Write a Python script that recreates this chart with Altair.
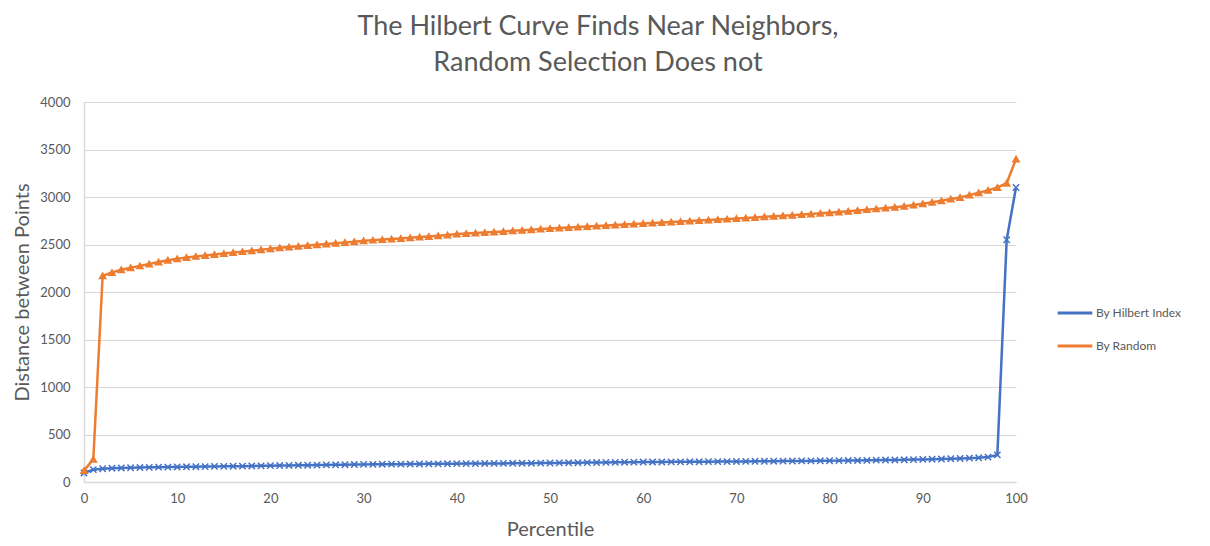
import altair as alt
import pandas as pd

percentile = list(range(101))

by_hilbert = [
    95, 130, 140, 145, 148, 150, 152, 154, 156, 157, 158,
    160, 161, 162, 164, 165, 166, 167, 169, 170, 172,
    173, 174, 176, 177, 178, 180, 181, 182, 184, 185,
    186, 187, 188, 188, 189, 190, 191, 191, 192, 193,
    194, 194, 195, 196, 196, 197, 198, 198, 199, 200,
    201, 202, 203, 204, 205, 206, 207, 208, 209, 210,
    211, 211, 212, 212, 213, 213, 214, 215, 215, 216,
    217, 218, 218, 219, 220, 221, 222, 222, 223, 224,
    225, 226, 227, 228, 230, 231, 232, 234, 236, 238,
    240, 242, 245, 248, 251, 255, 262, 285, 2550, 3100,
]

by_random = [
    120, 240, 2170, 2205, 2235, 2255, 2275, 2295, 2315, 2335, 2350,
    2362, 2375, 2385, 2395, 2405, 2415, 2425, 2435, 2445, 2455,
    2465, 2473, 2481, 2490, 2498, 2506, 2514, 2522, 2530, 2540,
    2546, 2552, 2558, 2564, 2571, 2578, 2585, 2592, 2600, 2610,
    2615, 2620, 2626, 2632, 2638, 2644, 2650, 2656, 2662, 2668,
    2673, 2678, 2684, 2690, 2695, 2700, 2705, 2710, 2716, 2722,
    2727, 2732, 2737, 2742, 2747, 2752, 2757, 2762, 2767, 2773,
    2779, 2785, 2791, 2797, 2803, 2809, 2815, 2821, 2828, 2835,
    2843, 2851, 2859, 2867, 2875, 2884, 2893, 2903, 2915, 2930,
    2945, 2960, 2978, 2995, 3020, 3045, 3070, 3100, 3145, 3400,
]

series_names = ["By Hilbert Index", "By Random"]
series_colors = ["#4472C4", "#ED7D31"]
x_shape = "M-1,-1L1,1M1,-1L-1,1"

rows = []
for p, h, r in zip(percentile, by_hilbert, by_random):
    rows.append({"Percentile": p, "Distance": h, "Series": series_names[0], "Marker": series_names[0]})
    rows.append({"Percentile": p, "Distance": r, "Series": series_names[1], "Marker": series_names[1]})
df = pd.DataFrame(rows)

font = "Lato"
grey = "#595959"

x_enc = alt.X("Percentile:Q",
              scale=alt.Scale(domain=[0, 100], nice=False),
              axis=alt.Axis(values=list(range(0, 101, 10)), title="Percentile",
                            grid=False, ticks=False, labelPadding=10, labelFlush=False,
                            titlePadding=14, domainColor="#d9d9d9", domainWidth=1.5))
y_enc = alt.Y("Distance:Q",
              scale=alt.Scale(domain=[0, 4000], nice=False),
              axis=alt.Axis(values=list(range(0, 4001, 500)), title="Distance between Points",
                            format="d", ticks=False, labelPadding=14, titlePadding=7,
                            labelFlush=False,
                            gridColor="#d9d9d9", gridWidth=1.2,
                            domainColor="#d9d9d9", domainWidth=1.5))

lines = alt.Chart(df).mark_line(strokeWidth=2.5).encode(
    x=x_enc, y=y_enc,
    color=alt.Color("Series:N",
                    scale=alt.Scale(domain=series_names, range=series_colors),
                    legend=alt.Legend(title=None, orient="none", legendX=972, legendY=192,
                                      symbolType="stroke", symbolStrokeWidth=3,
                                      symbolSize=1200, labelFontSize=12,
                                      labelColor=grey, labelFont=font, rowPadding=8,
                                      labelOffset=2)),
    detail="Series:N",
)

points = alt.Chart(df).mark_point(filled=True, size=40, strokeWidth=1.5, opacity=1).encode(
    x="Percentile:Q", y="Distance:Q",
    fill=alt.Fill("Marker:N", scale=alt.Scale(domain=series_names, range=series_colors), legend=None),
    stroke=alt.Stroke("Marker:N", scale=alt.Scale(domain=series_names, range=series_colors), legend=None),
    shape=alt.Shape("Marker:N", scale=alt.Scale(domain=series_names, range=[x_shape, "triangle-up"]), legend=None),
)

chart = alt.layer(lines, points).resolve_legend(
    color="independent", fill="independent", stroke="independent", shape="independent"
).properties(
    width=932, height=380,
    autosize=alt.AutoSizeParams(type="none"),
    padding={"left": 76, "top": 94, "right": 178, "bottom": 58},
    title=alt.Title(["The Hilbert Curve Finds Near Neighbors,", "Random Selection Does not"],
                    fontSize=27, font=font, fontWeight="normal", color=grey,
                    lineHeight=36, offset=19, anchor="middle", dx=48),
).configure_view(stroke=None).configure_axis(
    labelFont=font, labelFontSize=13, labelColor=grey,
    titleFont=font, titleFontSize=20, titleColor=grey, titleFontWeight="normal",
)

chart.save("out.html", embed_options={"renderer": "svg", "actions": False})
